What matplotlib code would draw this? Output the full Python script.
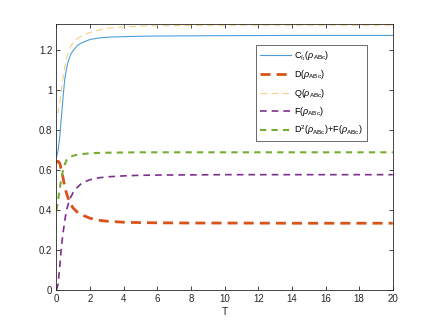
import matplotlib
matplotlib.use("Agg")
import matplotlib.pyplot as plt

plt.rcParams['font.family'] = ['Liberation Sans', 'DejaVu Sans']
plt.rcParams['mathtext.fontset'] = 'custom'
plt.rcParams['mathtext.rm'] = 'Liberation Sans'
plt.rcParams['mathtext.it'] = 'Liberation Sans:italic'

T = [0, 0.1, 0.2, 0.3, 0.4, 0.5, 0.6, 0.7, 0.85, 1.0, 1.25, 1.5, 2, 2.5, 3, 4, 5, 6, 8, 10, 14, 20]
C = [0.665, 0.70, 0.77, 0.87, 0.97, 1.06, 1.11, 1.145, 1.18, 1.20, 1.225, 1.238, 1.255, 1.262, 1.266,
     1.269, 1.271, 1.272, 1.273, 1.274, 1.275, 1.275]
D = [0.64, 0.645, 0.635, 0.60, 0.56, 0.515, 0.485, 0.46, 0.43, 0.41, 0.39, 0.377, 0.36, 0.35, 0.345,
     0.34, 0.338, 0.337, 0.336, 0.336, 0.335, 0.335]
Q = [0.89, 0.89, 0.93, 1.0, 1.07, 1.12, 1.16, 1.19, 1.22, 1.24, 1.26, 1.272, 1.29, 1.302, 1.31,
     1.318, 1.322, 1.324, 1.325, 1.326, 1.326, 1.326]
F = [0.0, 0.03, 0.12, 0.22, 0.29, 0.35, 0.40, 0.43, 0.465, 0.49, 0.515, 0.535, 0.553, 0.562, 0.567,
     0.572, 0.575, 0.576, 0.577, 0.578, 0.578, 0.578]
G = [0.40, 0.45, 0.51, 0.56, 0.605, 0.63, 0.65, 0.66, 0.668, 0.673, 0.678, 0.681, 0.685, 0.687, 0.688,
     0.689, 0.69, 0.69, 0.69, 0.69, 0.69, 0.69]

labels = [r'C$_{l_1}$($\rho_{\rm ABc}$)', r'D($\rho_{\rm ABc}$)', r'Q($\rho_{\rm ABc}$)',
          r'F($\rho_{\rm ABc}$)', r'D$^2$($\rho_{\rm ABc}$)+F($\rho_{\rm ABc}$)']

fig = plt.figure(figsize=(4.34, 3.26), dpi=100)
ax = fig.add_axes([0.13, 0.11, 0.775, 0.815])

ax.plot(T, C, color='#4a9fd8', lw=0.8, label=labels[0])
ax.plot(T, D, color='#d95319', lw=2.0, ls=(0, (3.6, 2.2)), label=labels[1])
ax.plot(T, Q, color='#f3cf85', lw=0.8, ls=(0, (6, 4)), label=labels[2])
ax.plot(T, F, color='#7e2f8e', lw=1.2, ls=(0, (4, 3)), label=labels[3])
ax.plot(T, G, color='#77ac30', lw=1.5, ls=(0, (3, 2.5)), label=labels[4])

ax.set_xlim(0, 20)
ax.set_ylim(0, 1.33)
ax.set_xticks(range(0, 21, 2))
ax.set_yticks([0, 0.2, 0.4, 0.6, 0.8, 1.0, 1.2])
ax.set_yticklabels(['0', '0.2', '0.4', '0.6', '0.8', '1', '1.2'])
ax.tick_params(direction='in', length=3, width=0.6, labelsize=7, colors='#262626',
               top=True, right=True, pad=3)
for s in ax.spines.values():
    s.set_color('#262626')
    s.set_linewidth(0.6)
ax.set_xlabel('T', fontsize=7.5, color='#262626', labelpad=2)

leg = ax.legend(loc='upper right', bbox_to_anchor=(0.922, 0.921), fontsize=6.5,
                frameon=True, fancybox=False, edgecolor='#262626', handlelength=3.5,
                labelspacing=0.6, borderpad=0.45, handletextpad=0.3, borderaxespad=0)
leg.get_frame().set_linewidth(0.6)

fig.savefig('out.png', dpi=100)
